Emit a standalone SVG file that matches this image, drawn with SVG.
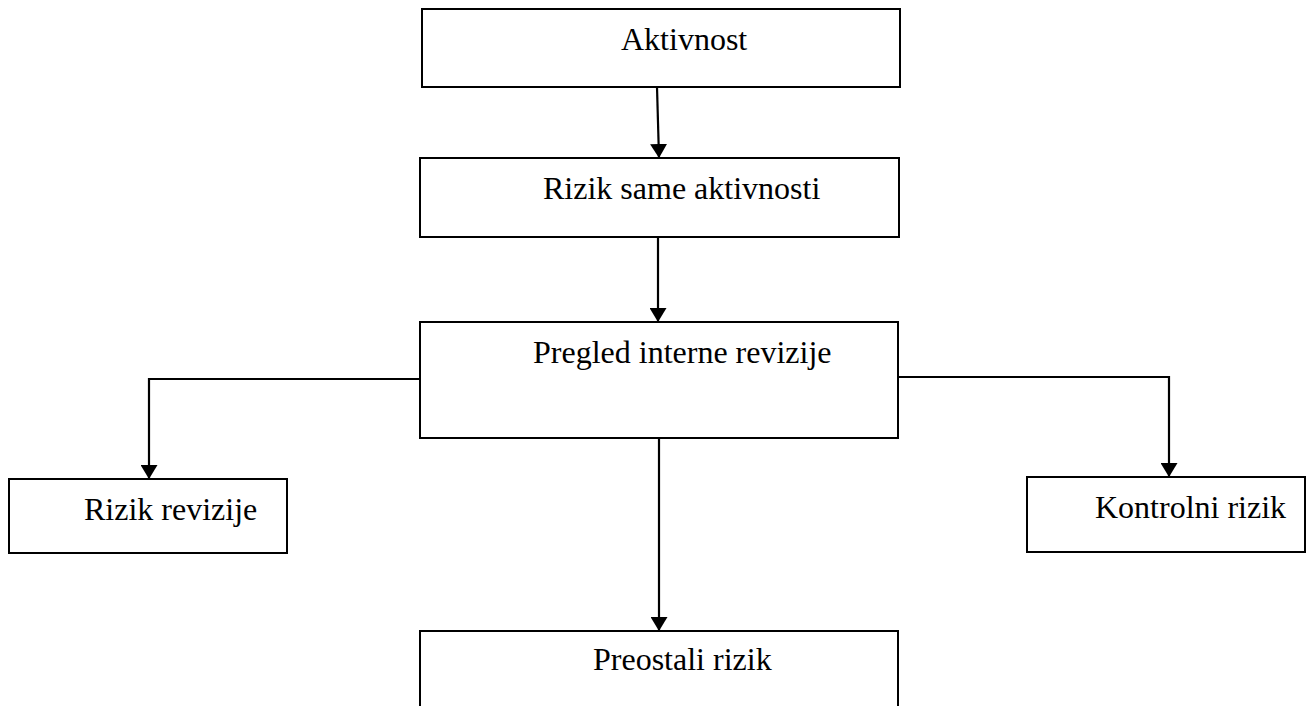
<svg xmlns="http://www.w3.org/2000/svg" width="1306" height="706" viewBox="0 0 1306 706">
<style>
.box{fill:#fff;stroke:#000;stroke-width:2}
.lbl{font-family:"Liberation Serif","Times New Roman",serif;font-size:32px;fill:#000}
.conn{fill:none;stroke:#000;stroke-width:2.2}
</style>
<defs>
<marker id="ah" viewBox="0 0 14 17" refX="14" refY="8.5" markerWidth="14" markerHeight="17" markerUnits="userSpaceOnUse" orient="auto">
<path d="M0,0 L14,8.5 L0,17 Z" fill="#000"/>
</marker>
</defs>
<rect width="1306" height="706" fill="#fff"/>
<g id="n-aktivnost"><rect class="box" x="422" y="9" width="478" height="78"/><text class="lbl" x="621" y="50">Aktivnost</text></g>
<g id="n-rizik-same"><rect class="box" x="420" y="158" width="479" height="79"/><text class="lbl" x="543" y="199">Rizik same aktivnosti</text></g>
<g id="n-pregled"><rect class="box" x="420" y="322" width="478" height="116"/><text class="lbl" x="533" y="363">Pregled interne revizije</text></g>
<g id="n-rizik-revizije"><rect class="box" x="9" y="479" width="278" height="74"/><text class="lbl" x="84" y="520">Rizik revizije</text></g>
<g id="n-kontrolni"><rect class="box" x="1027" y="477" width="278" height="75"/><text class="lbl" x="1095" y="518">Kontrolni rizik</text></g>
<g id="n-preostali"><rect class="box" x="420" y="631" width="478" height="90"/><text class="lbl" x="593" y="670">Preostali rizik</text></g>
<g id="connectors">
<path class="conn" d="M657,87 L659,158" marker-end="url(#ah)"/>
<path class="conn" d="M658,237 L658,322" marker-end="url(#ah)"/>
<path class="conn" d="M420,379 L149,379 L149,479" marker-end="url(#ah)"/>
<path class="conn" d="M898,377 L1169,377 L1169,477" marker-end="url(#ah)"/>
<path class="conn" d="M659,438 L659,631" marker-end="url(#ah)"/>
</g>
</svg>
